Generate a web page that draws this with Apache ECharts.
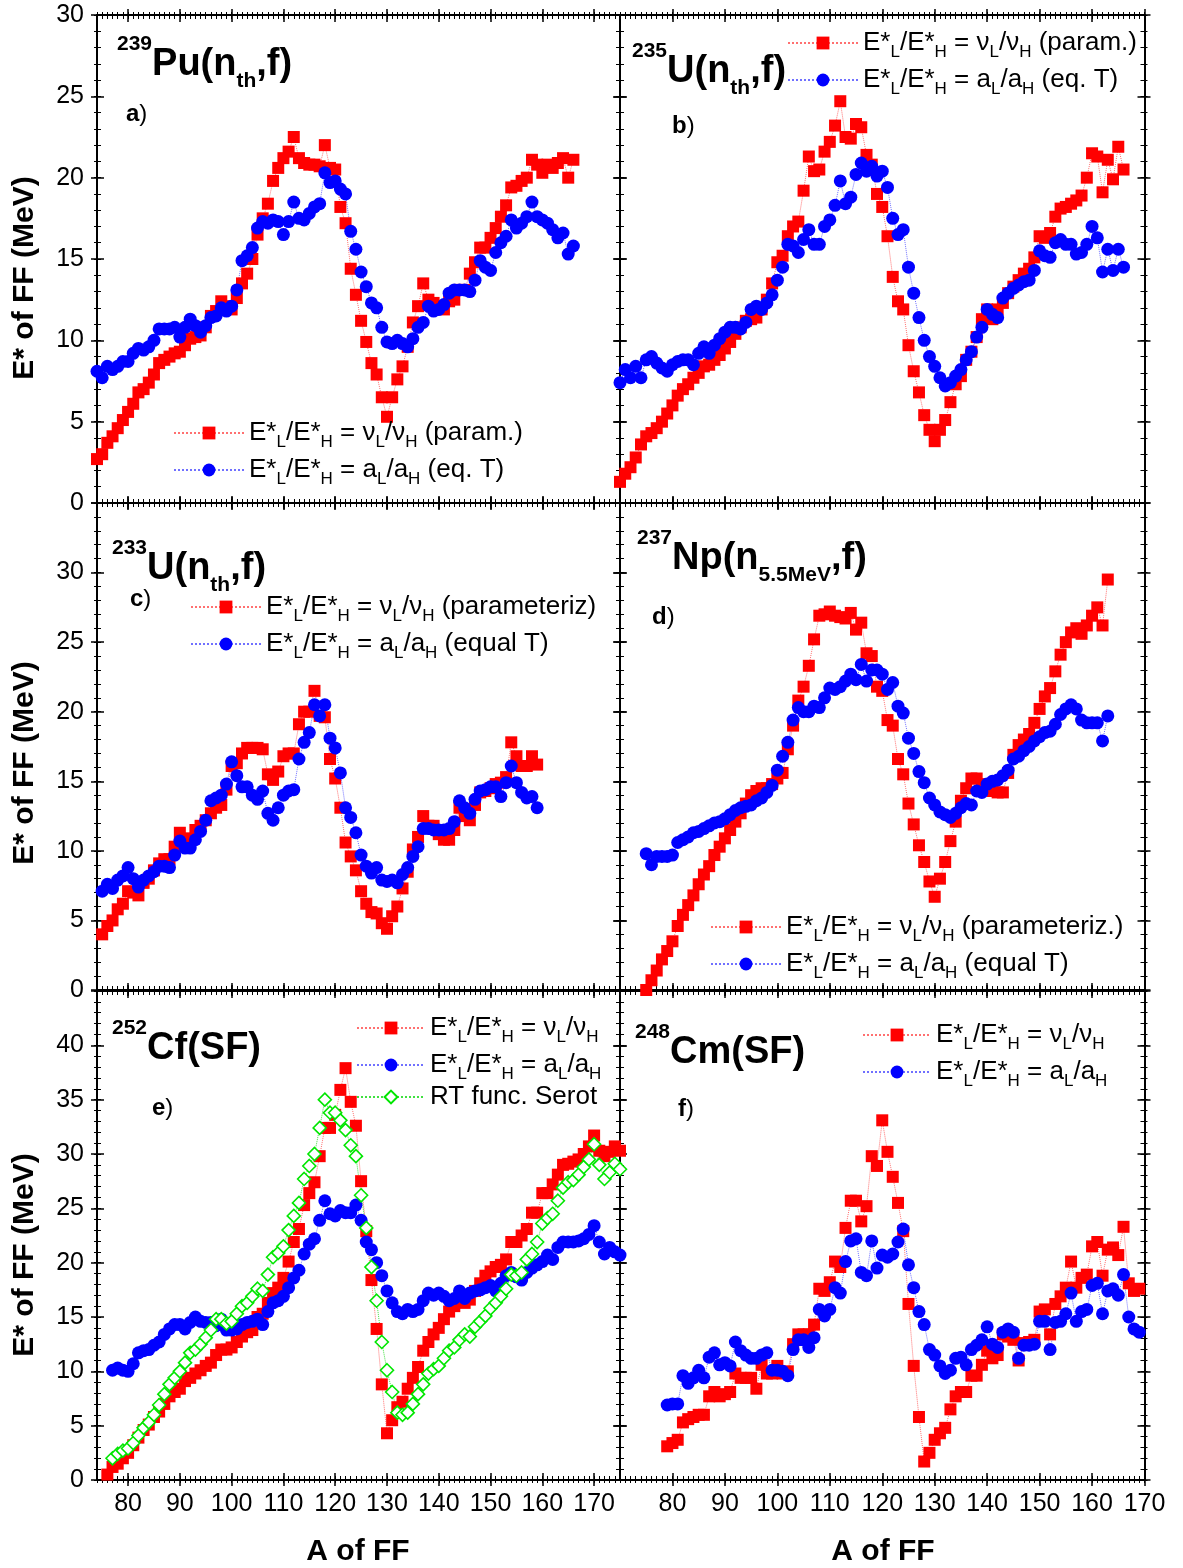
<!DOCTYPE html>
<html>
<head>
<meta charset="utf-8">
<script src="https://cdn.jsdelivr.net/npm/echarts@6/dist/echarts.min.js"></script>
<style>
  html, body { margin: 0; padding: 0; background: #fff; }
  #chart { width: 1183px; height: 1568px; }
</style>
</head>
<body>
<div id="chart"></div>
<script>
// ---- data: E* of fission fragments (MeV) vs fragment mass A ----
// each series starts at the given mass and runs in steps of 1

// a) 239Pu(nth,f)
const puNuStart = 74;
const puNu = [2.7, 3.0, 3.7, 4.1, 4.6, 5.1,
  5.6, 6.1, 6.8, 7.0, 7.4, 7.9, 8.6, 8.8, 9.0, 9.2,
  9.3, 9.7, 10.1, 10.2, 10.3, 10.8, 11.5, 11.8, 12.4, 12.1,
  11.9, 12.6, 13.5, 14.1, 15.0, 16.5, 17.5, 18.4, 19.8, 20.6,
  21.2, 21.6, 22.5, 21.2, 20.9, 20.8, 20.8, 20.7, 22.0, 20.6,
  20.5, 18.2, 17.2, 14.4, 12.8, 11.2, 9.9, 8.6, 7.9, 6.5,
  5.3, 6.5, 7.6, 8.4, 9.6, 11.1, 12.1, 13.5, 12.5, 12.3,
  12.0, 11.9, 12.4, 12.5, 13.1, 13.1, 14.1, 14.8, 15.7, 15.7,
  16.3, 16.9, 17.6, 18.3, 19.4, 19.5, 19.8, 20.0, 21.1, 20.8,
  20.3, 20.8, 20.6, 20.9, 21.2, 20.0, 21.1];
const puAStart = 74;
const puA = [8.1, 7.7, 8.4, 8.2, 8.4, 8.7,
  8.7, 9.2, 9.5, 9.4, 9.6, 10.0, 10.7, 10.7, 10.7, 10.8,
  10.2, 10.8, 11.3, 10.9, 10.5, 10.9, 11.4, 11.5, 12.0, 11.8,
  12.1, 13.1, 14.9, 15.2, 15.7, 16.9, 17.3, 17.2, 17.4, 17.3,
  16.5, 17.3, 18.5, 17.5, 17.4, 17.8, 18.2, 18.4, 20.3, 19.7,
  19.8, 19.3, 19.0, 16.7, 15.6, 14.2, 13.3, 12.3, 12.0, 10.8,
  9.9, 9.8, 10.0, 9.8, 9.6, 10.1, 10.8, 11.1, 12.1, 11.8,
  11.9, 12.2, 12.9, 13.1, 13.1, 13.1, 13.0, 13.7, 14.9, 14.5,
  14.3, 15.4, 16.0, 16.4, 17.4, 16.9, 17.2, 17.6, 18.5, 17.6,
  17.4, 17.2, 16.8, 16.3, 16.6, 15.3, 15.8];

// b) 235U(nth,f)
const u235NuStart = 70;
const u235Nu = [1.3, 1.8, 2.2, 2.8, 3.6, 4.1, 4.3, 4.6, 5.0, 5.5,
  6.0, 6.6, 7.0, 7.3, 7.7, 8.0, 8.4, 8.5, 8.8, 9.1,
  9.5, 9.9, 10.4, 10.8, 11.2, 11.3, 11.4, 11.9, 12.5, 13.5,
  14.8, 15.2, 16.4, 17.0, 17.3, 19.2, 21.3, 20.4, 20.5, 21.6,
  22.2, 23.2, 24.7, 22.5, 22.4, 23.3, 23.1, 21.4, 20.8, 19.0,
  18.2, 16.4, 13.9, 12.4, 11.9, 9.7, 8.1, 6.8, 5.4, 4.5,
  3.8, 4.5, 5.1, 6.2, 7.3, 7.8, 8.8, 9.3, 10.2, 11.3,
  11.9, 11.3, 11.9, 12.3, 12.9, 13.3, 13.7, 14.1, 14.4, 15.1,
  16.4, 16.3, 16.6, 17.6, 18.1, 18.2, 18.4, 18.6, 18.9, 20.0,
  21.5, 21.3, 19.1, 21.1, 19.9, 21.9, 20.5];
const u235AStart = 70;
const u235A = [7.4, 8.2, 7.7, 8.4, 7.7, 8.8, 9.0, 8.6, 8.3, 8.1,
  8.5, 8.7, 8.8, 8.8, 8.5, 9.2, 9.6, 9.2, 9.7, 10.1,
  10.5, 10.8, 10.8, 10.7, 11.1, 11.9, 12.1, 11.9, 12.3, 12.8,
  13.7, 14.5, 15.9, 15.8, 15.4, 16.2, 16.8, 15.9, 15.9, 17.0,
  17.4, 18.3, 19.8, 18.4, 18.8, 20.2, 20.9, 20.4, 20.7, 20.1,
  20.4, 19.4, 17.5, 16.5, 16.8, 14.5, 12.9, 11.4, 10.0, 9.0,
  8.4, 7.7, 7.2, 7.4, 7.8, 8.2, 8.8, 9.3, 10.2, 10.8,
  11.9, 11.6, 11.4, 12.6, 12.9, 13.2, 13.4, 13.6, 13.7, 14.3,
  15.5, 15.2, 15.1, 16.0, 16.2, 15.9, 15.9, 15.3, 15.4, 15.9,
  17.0, 16.3, 14.2, 15.6, 14.3, 15.6, 14.5];

// c) 233U(nth,f)
const u233NuStart = 75;
const u233Nu = [4.0, 4.6, 5.0, 5.8, 6.2,
  7.1, 7.0, 6.8, 7.7, 8.0, 8.6, 9.1, 9.4, 9.4, 10.3,
  11.3, 10.7, 10.9, 11.5, 11.8, 12.2, 12.7, 13.1, 13.3, 14.4,
  16.1, 16.3, 17.0, 17.4, 17.4, 17.4, 17.3, 15.5, 15.1, 15.7,
  16.8, 17.0, 17.0, 19.1, 20.0, 20.0, 21.5, 19.7, 19.6, 16.6,
  15.2, 13.1, 10.6, 9.6, 8.6, 7.1, 6.2, 5.6, 5.5, 4.8,
  4.4, 5.3, 6.0, 7.3, 8.5, 10.1, 11.0, 12.5, 11.8, 11.8,
  11.2, 10.8, 10.8, 11.5, 13.1, 12.5, 12.2, 13.3, 14.2, 14.3,
  14.5, 14.8, 14.9, 15.3, 17.8, 16.8, 16.1, 16.1, 16.8, 16.2];
const u233AStart = 75;
const u233A = [7.1, 7.6, 7.3, 7.9, 8.2,
  8.8, 8.0, 7.4, 7.9, 8.2, 8.5, 8.9, 8.9, 8.8, 9.7,
  10.7, 10.2, 10.2, 10.8, 11.4, 12.2, 13.6, 13.8, 14.0, 14.8,
  16.4, 15.4, 14.6, 14.6, 14.0, 13.7, 14.3, 12.7, 12.2, 13.1,
  14.0, 14.3, 14.4, 16.6, 17.8, 18.5, 20.5, 19.7, 20.5, 18.1,
  17.4, 15.6, 13.1, 12.4, 11.3, 9.7, 8.9, 8.4, 8.8, 7.9,
  7.8, 7.9, 7.7, 8.3, 8.8, 9.6, 10.3, 11.6, 11.6, 11.5,
  11.5, 11.5, 11.6, 12.1, 13.6, 13.1, 12.7, 13.7, 14.3, 14.4,
  14.6, 14.6, 13.9, 14.9, 16.1, 14.9, 14.2, 13.8, 13.9, 13.1];

// d) 237Np(n5.5MeV,f)
const npNuStart = 75;
const npNu = [0.0, 0.7, 1.4, 2.2, 2.8,
  3.5, 4.6, 5.4, 6.1, 6.8, 7.6, 8.3, 8.9, 9.7, 10.3,
  10.9, 11.5, 12.1, 12.7, 13.4, 14.0, 14.3, 14.5, 14.5, 14.8,
  15.2, 15.6, 17.3, 19.0, 20.8, 21.8, 23.3, 25.2, 26.9, 27.0,
  27.2, 26.9, 26.8, 26.7, 27.1, 25.9, 26.4, 24.2, 24.0, 21.8,
  21.5, 19.4, 19.0, 16.6, 15.5, 13.4, 11.9, 10.4, 9.2, 7.8,
  6.7, 8.0, 9.2, 10.7, 12.1, 13.6, 14.5, 15.2, 15.2, 14.8,
  14.5, 14.3, 14.2, 14.2, 15.6, 16.9, 17.6, 18.0, 18.4, 19.2,
  20.2, 21.1, 21.7, 22.9, 24.1, 25.0, 25.7, 26.0, 25.6, 26.2,
  26.9, 27.5, 26.2, 29.5];
const npAStart = 75;
const npA = [9.8, 9.0, 9.6, 9.6, 9.6,
  9.7, 10.6, 10.8, 11.0, 11.3, 11.4, 11.6, 11.8, 12.0, 12.1,
  12.3, 12.6, 12.9, 13.1, 13.2, 13.3, 13.6, 13.8, 14.2, 14.7,
  15.8, 16.8, 17.8, 19.4, 20.3, 20.0, 20.0, 20.4, 20.3, 21.0,
  21.7, 21.6, 21.8, 22.2, 22.7, 22.3, 23.4, 22.2, 23.0, 23.0,
  22.7, 21.6, 22.1, 20.4, 19.9, 18.1, 17.0, 15.7, 14.9, 13.8,
  13.3, 12.8, 12.6, 12.4, 12.7, 13.1, 13.4, 13.3, 14.3, 14.2,
  14.8, 15.0, 15.1, 15.4, 15.8, 16.6, 16.8, 17.2, 17.5, 17.9,
  18.2, 18.5, 18.6, 19.1, 19.8, 20.2, 20.5, 20.2, 19.4, 19.2,
  19.2, 19.2, 17.9, 19.7];

// e) 252Cf(SF)
const cfNuStart = 76;
const cfNu = [0.5, 1.2, 1.5, 2.0, 2.5, 3.2, 3.9, 4.6, 5.1, 5.8,
  6.3, 7.0, 7.7, 8.1, 8.4, 9.1, 9.4, 9.8, 10.1, 10.5,
  10.8, 11.5, 12.0, 12.0, 12.2, 12.7, 13.2, 13.6, 13.8, 15.0,
  15.3, 16.3, 17.2, 17.7, 18.6, 20.1, 21.9, 23.1, 25.3, 26.4,
  27.4, 29.8, 32.4, 32.4, 33.6, 35.9, 37.9, 34.8, 32.6, 27.5,
  22.9, 18.4, 13.9, 8.8, 4.3, 5.5, 6.7, 7.2, 8.4, 9.4,
  10.4, 11.9, 12.7, 13.4, 14.0, 14.8, 15.5, 16.0, 16.5, 16.3,
  16.6, 17.4, 18.1, 18.8, 19.2, 19.6, 19.8, 20.3, 21.9, 21.9,
  22.5, 23.1, 24.6, 24.6, 26.4, 26.4, 27.2, 28.1, 29.0, 29.1,
  29.3, 29.5, 30.0, 30.7, 31.7, 30.3, 29.8, 30.2, 30.7, 30.3];
const cfAStart = 77;
const cfA = [10.1, 10.3, 10.1, 10.0, 10.7, 11.7, 11.9, 12.0, 12.4, 12.7,
  13.4, 13.9, 14.3, 14.3, 13.9, 14.5, 15.0, 14.6, 14.5, 14.5,
  14.2, 14.8, 13.8, 13.8, 13.9, 14.3, 14.5, 14.6, 14.8, 14.3,
  15.5, 16.3, 16.5, 16.9, 17.7, 18.6, 19.3, 20.8, 21.7, 22.2,
  23.9, 25.7, 24.5, 24.3, 24.8, 24.6, 24.6, 25.3, 23.9, 21.9,
  21.2, 20.0, 18.8, 17.4, 16.3, 15.5, 15.3, 15.7, 15.5, 15.7,
  16.5, 17.2, 17.0, 17.2, 16.9, 16.5, 16.7, 17.4, 16.7, 17.2,
  17.4, 17.5, 17.7, 17.9, 17.4, 18.1, 18.8, 19.1, 18.7, 18.4,
  19.1, 19.5, 19.8, 20.1, 20.7, 20.3, 21.4, 21.9, 21.9, 21.9,
  22.0, 22.2, 22.6, 23.4, 21.9, 20.8, 21.4, 21.0, 20.7];
const cfRtStart = 77;
const cfRt = [2.0, 2.4, 2.7, 2.9, 3.4, 4.1, 4.8, 5.3, 6.0, 6.9,
  7.9, 8.8, 9.4, 10.0, 10.8, 11.7, 12.0, 12.5, 13.1, 13.8,
  14.8, 14.8, 14.4, 14.6, 15.3, 16.0, 16.3, 16.9, 17.6, 17.4,
  18.9, 20.5, 20.9, 21.5, 23.0, 24.3, 25.5, 27.7, 28.9, 30.0,
  32.4, 35.0, 33.8, 33.8, 33.1, 32.2, 30.8, 29.8, 26.2, 23.2,
  19.6, 16.5, 12.7, 10.1, 8.1, 6.2, 6.0, 6.2, 7.0, 7.9,
  8.8, 9.8, 10.2, 10.5, 11.2, 11.9, 12.2, 12.9, 13.4, 13.2,
  14.1, 14.6, 15.1, 15.8, 16.3, 16.9, 17.6, 18.9, 18.8, 19.1,
  20.3, 20.8, 21.9, 23.6, 24.1, 24.5, 25.7, 26.9, 27.4, 27.6,
  28.1, 28.8, 29.5, 30.9, 29.0, 27.7, 28.3, 29.1, 28.6];

// f) 248Cm(SF)
const cmNuStart = 79;
const cmNu = [3.1, 3.4, 3.7, 5.3, 5.6, 5.8, 6.0, 6.0, 7.7, 8.1,
  7.7, 7.9, 8.1, 9.8, 9.4, 9.4, 9.4, 8.4, 10.6, 9.8,
  9.8, 10.5, 9.8, 10.0, 12.5, 13.4, 13.4, 13.4, 14.3, 17.6,
  17.4, 18.2, 20.1, 19.6, 23.2, 25.7, 25.7, 23.8, 25.2, 29.8,
  28.9, 33.1, 30.2, 27.9, 25.5, 22.9, 16.2, 10.5, 5.8, 1.7,
  2.5, 3.7, 4.3, 4.8, 6.5, 7.7, 8.1, 8.1, 9.6, 9.6,
  10.6, 11.9, 11.2, 11.5, 13.4, 13.2, 12.9, 11.0, 12.6, 12.7,
  12.9, 15.5, 15.7, 13.4, 16.2, 16.9, 17.7, 20.1, 17.7, 18.6,
  18.9, 21.5, 21.9, 18.8, 21.2, 21.4, 20.7, 23.3, 18.1, 17.4,
  17.6];
const cmAStart = 79;
const cmA = [6.9, 7.0, 7.0, 9.6, 8.9, 9.4, 10.1, 9.4, 11.3, 11.7,
  10.6, 10.8, 10.5, 12.7, 11.9, 11.5, 11.2, 11.2, 11.5, 11.7,
  10.1, 10.1, 10.0, 9.6, 12.0, 12.9, 12.9, 12.2, 13.1, 15.7,
  15.1, 15.7, 17.7, 17.2, 20.1, 22.0, 22.2, 19.1, 18.8, 22.0,
  19.5, 20.7, 20.5, 20.8, 21.9, 23.1, 19.8, 17.7, 15.5, 14.3,
  12.0, 11.5, 10.5, 9.8, 10.1, 11.2, 11.3, 10.6, 12.0, 12.4,
  12.9, 14.1, 12.5, 12.2, 13.6, 13.9, 13.6, 11.2, 12.4, 12.4,
  12.5, 14.6, 14.6, 12.0, 14.5, 14.6, 15.3, 17.2, 14.6, 15.5,
  15.7, 17.9, 18.1, 15.3, 17.4, 17.6, 17.0, 18.9, 15.0, 13.9,
  13.6];

// tick labels
const xTicks = [80, 90, 100, 110, 120, 130, 140, 150, 160, 170];
const yTicksRow1 = [0, 5, 10, 15, 20, 25, 30];
const yTicksRow2 = [0, 5, 10, 15, 20, 25, 30, 35];
const yLabelsRow2 = [0, 5, 10, 15, 20, 25, 30];
const yTicksRow3 = [0, 5, 10, 15, 20, 25, 30, 35, 40, 45];
const yLabelsRow3 = [0, 5, 10, 15, 20, 25, 30, 35, 40];

// ---- layout ----
const FONT = '"Liberation Sans", Arial, Helvetica, sans-serif';
const panels = [
  { left: 97, top: 15, width: 523, height: 488, xMin: 74, xMax: 175, yMax: 30, yTicks: yTicksRow1, yLabels: yTicksRow1, xLabels: false },
  { left: 620, top: 15, width: 524.5, height: 488, xMin: 70, xMax: 170, yMax: 30, yTicks: yTicksRow1, yLabels: null, xLabels: false },
  { left: 97, top: 503, width: 523, height: 487, xMin: 74, xMax: 175, yMax: 35, yTicks: yTicksRow2, yLabels: yLabelsRow2, xLabels: false },
  { left: 620, top: 503, width: 524.5, height: 487, xMin: 70, xMax: 170, yMax: 35, yTicks: yTicksRow2, yLabels: null, xLabels: false },
  { left: 97, top: 991, width: 523, height: 489, xMin: 74, xMax: 175, yMax: 45, yTicks: yTicksRow3, yLabels: yLabelsRow3, xLabels: true },
  { left: 620, top: 991, width: 524.5, height: 489, xMin: 70, xMax: 170, yMax: 45, yTicks: yTicksRow3, yLabels: null, xLabels: false }
];
panels[5].xLabels = true;

function intRange(a, b) {
  const r = [];
  for (let v = a; v <= b; v++) r.push(v);
  return r;
}

const grids = [], xAxes = [], yAxes = [], mainX = [], mainY = [];

panels.forEach((p, gi) => {
  grids.push({ left: p.left, top: p.top, width: p.width, height: p.height, containLabel: false });

  // x axes: bottom and top, major + minor ticks, each crossing the line
  ['bottom', 'top'].forEach(pos => {
    [[xTicks, 7, 1.5], [intRange(p.xMin, p.xMax), 4, 1]].forEach(([vals, len, w], k) => {
      [false, true].forEach(inside => {
        const isLine = k === 0 && !inside;
        const isMain = isLine && pos === 'bottom';
        if (isMain) mainX[gi] = xAxes.length;
        xAxes.push({
          type: 'value', gridIndex: gi, position: pos, min: p.xMin, max: p.xMax,
          axisLine: { show: isLine, onZero: false, lineStyle: { color: '#000', width: 2 } },
          axisTick: { show: true, inside: inside, length: inside ? len : len - 1, customValues: vals,
                      lineStyle: { color: '#000', width: w } },
          axisLabel: { show: isMain && p.xLabels, customValues: xTicks, margin: 12,
                       fontSize: 25, color: '#000', fontFamily: FONT },
          splitLine: { show: false }
        });
      });
    });
  });

  // y axes: left and right
  ['left', 'right'].forEach(pos => {
    [[p.yTicks, 7, 1.5], [intRange(0, p.yMax), 4, 1]].forEach(([vals, len, w], k) => {
      [false, true].forEach(inside => {
        const isLine = k === 0 && !inside;
        const isMain = isLine && pos === 'left';
        if (isMain) mainY[gi] = yAxes.length;
        yAxes.push({
          type: 'value', gridIndex: gi, position: pos, min: 0, max: p.yMax,
          axisLine: { show: isLine, onZero: false, lineStyle: { color: '#000', width: 2 } },
          axisTick: { show: true, inside: inside, length: inside ? len : len - 1, customValues: vals,
                      lineStyle: { color: '#000', width: w } },
          axisLabel: { show: isMain && !!p.yLabels, customValues: p.yLabels || [], margin: 13,
                       fontSize: 25, color: '#000', fontFamily: FONT },
          splitLine: { show: false }
        });
      });
    });
  });
});

function massPairs(start, values) {
  return values.map((v, i) => [start + i, v]);
}

const RED = { symbol: 'rect', symbolSize: 12, itemStyle: { color: '#ff0000' },
              lineStyle: { color: '#ff7070', width: 1, type: 'dotted' } };
const BLUE = { symbol: 'circle', symbolSize: 13, itemStyle: { color: '#0000ff' },
               lineStyle: { color: '#7070ff', width: 1, type: 'dotted' } };
const GREEN = { symbol: 'diamond', symbolSize: [13, 13],
                itemStyle: { color: '#ffffff', borderColor: '#00e600', borderWidth: 1.6 },
                lineStyle: { color: '#40e040', width: 1, type: 'dotted' } };

const seriesDefs = [
  ['pu_nu', 0, puNuStart, puNu, RED], ['pu_a', 0, puAStart, puA, BLUE],
  ['u5_nu', 1, u235NuStart, u235Nu, RED], ['u5_a', 1, u235AStart, u235A, BLUE],
  ['u3_nu', 2, u233NuStart, u233Nu, RED], ['u3_a', 2, u233AStart, u233A, BLUE],
  ['np_nu', 3, npNuStart, npNu, RED], ['np_a', 3, npAStart, npA, BLUE],
  ['cf_nu', 4, cfNuStart, cfNu, RED], ['cf_a', 4, cfAStart, cfA, BLUE], ['cf_rt', 4, cfRtStart, cfRt, GREEN],
  ['cm_nu', 5, cmNuStart, cmNu, RED], ['cm_a', 5, cmAStart, cmA, BLUE]
];

const series = seriesDefs.map(([name, gi, start, vals, st]) => Object.assign({
  name: name, type: 'line', xAxisIndex: mainX[gi], yAxisIndex: mainY[gi],
  data: massPairs(start, vals), showSymbol: true, animation: false
}, st));

// ---- legends ----
const nuText = '{n|E*}{s|L}{n|/E*}{s|H}{n| = ν}{s|L}{n|/ν}{s|H}';
const aText = '{n|E*}{s|L}{n|/E*}{s|H}{n| = a}{s|L}{n|/a}{s|H}';
const legendText = {
  pu_nu: nuText + '{n| (param.)}', pu_a: aText + '{n| (eq. T)}',
  u5_nu: nuText + '{n| (param.)}', u5_a: aText + '{n| (eq. T)}',
  u3_nu: nuText + '{n| (parameteriz)}', u3_a: aText + '{n| (equal T)}',
  np_nu: nuText + '{n| (parameteriz.)}', np_a: aText + '{n| (equal T)}',
  cf_nu: nuText, cf_a: aText, cf_rt: '{n|RT func. Serot}',
  cm_nu: nuText, cm_a: aText
};
const legendRich = {
  n: { fontSize: 26, lineHeight: 36, fontFamily: FONT, color: '#000' },
  s: { fontSize: 17, lineHeight: 36, fontFamily: FONT, color: '#000', padding: [19, 0, 0, 0] }
};
const legendDefs = [
  [['pu_nu', 'pu_a'], 173, 415, 70],
  [['u5_nu', 'u5_a'], 787, 25, 70],
  [['u3_nu', 'u3_a'], 190, 589, 70],
  [['np_nu', 'np_a'], 710, 909, 70],
  [['cf_nu', 'cf_a', 'cf_rt'], 356, 1010, 68],
  [['cm_nu', 'cm_a'], 862, 1017, 68]
];
const legends = legendDefs.map(([names, left, top, w]) => ({
  data: names, orient: 'vertical', left: left, top: top, padding: 0,
  itemWidth: w, itemHeight: 16, itemGap: 1, selectedMode: false,
  formatter: n => legendText[n], textStyle: { rich: legendRich }
}));

// ---- titles and annotations ----
const titleRich = {
  b: { fontSize: 38, fontWeight: 'bold', lineHeight: 64, fontFamily: FONT, color: '#000' },
  p: { fontSize: 21, fontWeight: 'bold', lineHeight: 64, fontFamily: FONT, color: '#000', padding: [0, 0, 42, 0] },
  d: { fontSize: 21, fontWeight: 'bold', lineHeight: 64, fontFamily: FONT, color: '#000', padding: [32, 0, 0, 0] }
};
const titles = [
  ['{p|239}{b|Pu(n}{d|th}{b|,f)}', 117, 33],
  ['{p|235}{b|U(n}{d|th}{b|,f)}', 632, 40],
  ['{p|233}{b|U(n}{d|th}{b|,f)}', 112, 537],
  ['{p|237}{b|Np(n}{d|5.5MeV}{b|,f)}', 637, 527],
  ['{p|252}{b|Cf(SF)}', 112, 1017],
  ['{p|248}{b|Cm(SF)}', 635, 1021]
];
const letterRich = {
  b: { fontSize: 24, fontWeight: 'bold', fontFamily: FONT, color: '#000' },
  r: { fontSize: 24, fontFamily: FONT, color: '#000' }
};
const letters = [['a', 126, 114], ['b', 672, 126], ['c', 130, 599], ['d', 652, 617], ['e', 152, 1108], ['f', 678, 1109]];

const graphic = [];
titles.forEach(([t, x, y]) => graphic.push({
  type: 'text', x: x, y: y, silent: true,
  style: { text: t, rich: titleRich, verticalAlign: 'top', align: 'left' }
}));
letters.forEach(([t, x, y]) => graphic.push({
  type: 'text', x: x, y: y, silent: true,
  style: { text: '{b|' + t + '}{r|)}', rich: letterRich, verticalAlign: 'middle', align: 'left' }
}));
[278, 763, 1255].forEach(cy => graphic.push({
  type: 'text', x: 25, y: cy, rotation: Math.PI / 2, silent: true,
  style: { text: 'E* of FF (MeV)', font: 'bold 30px ' + FONT, fill: '#000', align: 'center', verticalAlign: 'middle' }
}));
[358, 883].forEach(cx => graphic.push({
  type: 'text', x: cx, y: 1552, silent: true,
  style: { text: 'A of FF', font: 'bold 30px ' + FONT, fill: '#000', align: 'center', verticalAlign: 'middle' }
}));

const chart = echarts.init(document.getElementById('chart'));
chart.setOption({
  backgroundColor: '#fff',
  animation: false,
  grid: grids,
  xAxis: xAxes,
  yAxis: yAxes,
  legend: legends,
  series: series,
  graphic: graphic
});
</script>
</body>
</html>
